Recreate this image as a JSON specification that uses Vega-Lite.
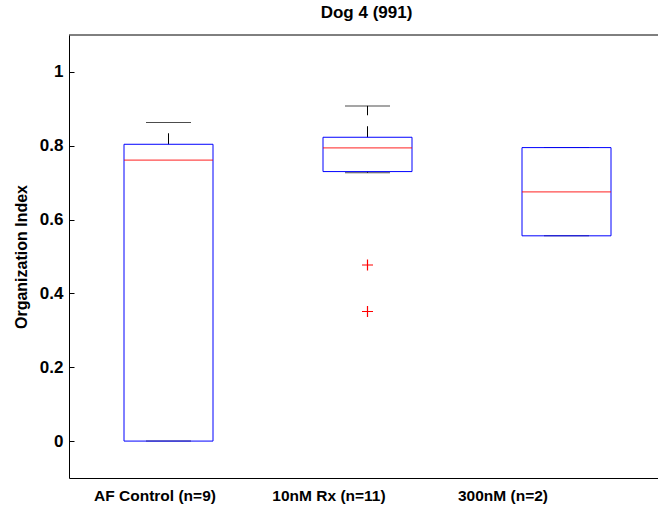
{
  "$schema": "https://vega.github.io/schema/vega-lite/v6.json",
  "width": 589,
  "height": 443,
  "autosize": {"type": "none"},
  "padding": {"left": 69, "top": 35, "right": 0, "bottom": 30},
  "background": "white",
  "config": {
    "view": {"stroke": null},
    "font": "Liberation Sans"
  },
  "title": {
    "text": "Dog 4 (991)",
    "font": "Liberation Sans",
    "fontSize": 17,
    "fontWeight": "bold",
    "color": "black",
    "baseline": "alphabetic",
    "offset": 0,
    "dx": 3
  },
  "datasets": {
    "box": [
      {"group": "AF Control (n=9)", "lower": 0.0, "q1": 0.0, "median": 0.761, "q3": 0.804, "upper": 0.863},
      {"group": "10nM Rx (n=11)", "lower": 0.727, "q1": 0.730, "median": 0.794, "q3": 0.823, "upper": 0.908},
      {"group": "300nM (n=2)", "lower": 0.556, "q1": 0.556, "median": 0.675, "q3": 0.795, "upper": 0.795}
    ],
    "out": [
      {"group": "10nM Rx (n=11)", "value": 0.477},
      {"group": "10nM Rx (n=11)", "value": 0.351}
    ]
  },
  "layer": [
    {
      "data": {"name": "box"},
      "mark": {"type": "rule", "color": "black", "strokeWidth": 1, "strokeDash": [11, 11]},
      "encoding": {
        "x": {
          "field": "group",
          "type": "nominal",
          "sort": ["AF Control (n=9)", "10nM Rx (n=11)", "300nM (n=2)"],
          "scale": {"type": "point", "padding": 0.5, "range": [0, 597]},
          "axis": {
            "title": null,
            "ticks": false,
            "domain": true,
            "domainColor": "black",
            "domainWidth": 1,
            "labelAngle": 0,
            "labelFont": "Liberation Sans",
            "labelFontSize": 15.5,
            "labelFontWeight": "bold",
            "labelColor": "black",
            "labelPadding": 10,
            "labelOffset": {
              "condition": [
                {"test": "datum.value === 'AF Control (n=9)'", "value": -14},
                {"test": "datum.value === '10nM Rx (n=11)'", "value": -39}
              ],
              "value": -64
            }
          }
        },
        "y": {
          "field": "q3",
          "type": "quantitative",
          "scale": {"domain": [-0.1, 1.1], "nice": false, "zero": false},
          "axis": {
            "title": "Organization Index",
            "titleFont": "Liberation Sans",
            "titleFontSize": 16,
            "titleFontWeight": "bold",
            "titleColor": "black",
            "titlePadding": 10,
            "values": [0, 0.2, 0.4, 0.6, 0.8, 1],
            "format": "~g",
            "grid": false,
            "domainColor": "black",
            "tickColor": "black",
            "tickSize": -5,
            "labelPadding": 11,
            "labelFont": "Liberation Sans",
            "labelFontSize": 17,
            "labelFontWeight": "bold",
            "labelColor": "black"
          }
        },
        "y2": {"field": "upper"}
      }
    },
    {
      "data": {"name": "box"},
      "mark": {"type": "rule", "color": "black", "strokeWidth": 1, "strokeDash": [11, 11]},
      "encoding": {
        "x": {"field": "group", "type": "nominal", "sort": ["AF Control (n=9)", "10nM Rx (n=11)", "300nM (n=2)"]},
        "y": {"field": "q1", "type": "quantitative"},
        "y2": {"field": "lower"}
      }
    },
    {
      "data": {"name": "box"},
      "mark": {"type": "tick", "color": "black", "size": 45, "thickness": 1},
      "encoding": {
        "x": {"field": "group", "type": "nominal", "sort": ["AF Control (n=9)", "10nM Rx (n=11)", "300nM (n=2)"]},
        "y": {"field": "upper", "type": "quantitative"}
      }
    },
    {
      "data": {"name": "box"},
      "mark": {"type": "tick", "color": "black", "size": 45, "thickness": 1},
      "encoding": {
        "x": {"field": "group", "type": "nominal", "sort": ["AF Control (n=9)", "10nM Rx (n=11)", "300nM (n=2)"]},
        "y": {"field": "lower", "type": "quantitative"}
      }
    },
    {
      "data": {"name": "box"},
      "mark": {"type": "bar", "width": 89, "fill": "white", "fillOpacity": 0, "stroke": "#0000ff", "strokeWidth": 1},
      "encoding": {
        "x": {"field": "group", "type": "nominal", "sort": ["AF Control (n=9)", "10nM Rx (n=11)", "300nM (n=2)"]},
        "y": {"field": "q1", "type": "quantitative"},
        "y2": {"field": "q3"}
      }
    },
    {
      "data": {"name": "box"},
      "mark": {"type": "tick", "color": "#ff0000", "size": 89, "thickness": 1.3},
      "encoding": {
        "x": {"field": "group", "type": "nominal", "sort": ["AF Control (n=9)", "10nM Rx (n=11)", "300nM (n=2)"]},
        "y": {"field": "median", "type": "quantitative"}
      }
    },
    {
      "data": {"name": "out"},
      "mark": {"type": "point", "shape": "M-1,0L1,0M0,-1L0,1", "filled": false, "color": "#ff0000", "stroke": "#ff0000", "strokeWidth": 1.2, "size": 121, "opacity": 1},
      "encoding": {
        "x": {"field": "group", "type": "nominal", "sort": ["AF Control (n=9)", "10nM Rx (n=11)", "300nM (n=2)"]},
        "y": {"field": "value", "type": "quantitative"}
      }
    },
    {
      "data": {"values": [{"top": 1.1}]},
      "mark": {"type": "rule", "color": "black", "strokeWidth": 1},
      "encoding": {"y": {"field": "top", "type": "quantitative"}}
    }
  ]
}
